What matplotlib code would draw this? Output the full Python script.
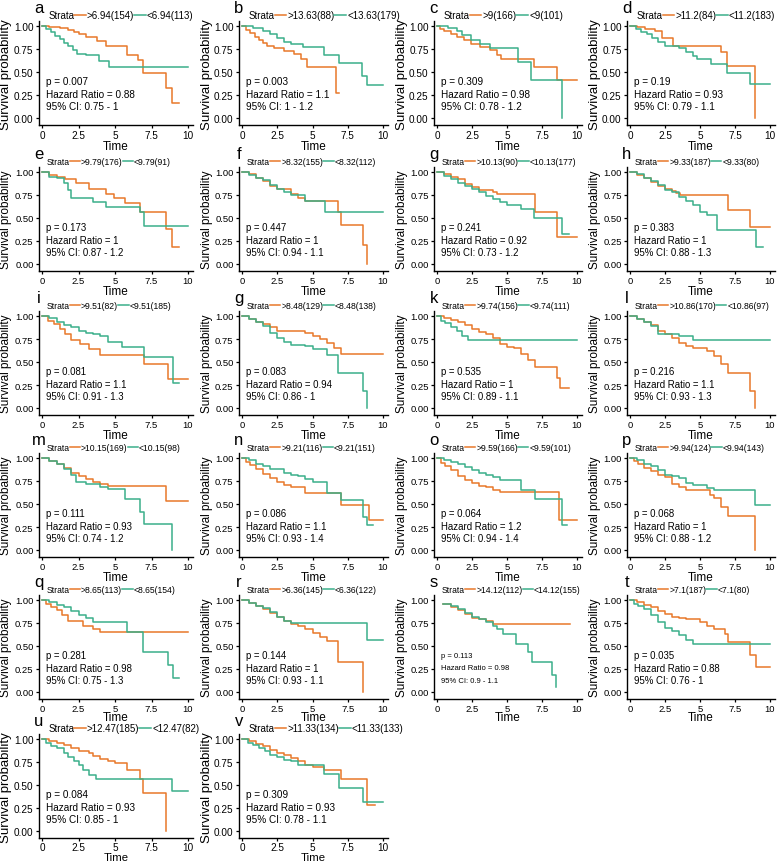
import matplotlib
matplotlib.use("Agg")
import matplotlib.pyplot as plt
from matplotlib.lines import Line2D

# panel labels (the reference repeats "g" in the third row)
letters = ['a', 'b', 'c', 'd', 'e', 'f', 'g', 'h', 'i', 'g', 'k', 'l',
           'm', 'n', 'o', 'p', 'q', 'r', 's', 't', 'u', 'v']
cutoffs = ['6.94', '13.63', '9', '11.2', '9.79', '8.32', '10.13', '9.33', '9.51', '8.48', '9.74',
           '10.86', '10.15', '9.21', '9.59', '9.94', '8.65', '6.36', '14.12', '7.1', '12.47', '11.33']
n_high = [154, 88, 166, 84, 176, 155, 90, 187, 82, 129, 156, 170, 169, 116, 166, 124, 113, 145, 112, 187, 185, 134]
n_low = [113, 179, 101, 183, 91, 112, 177, 80, 185, 138, 111, 97, 98, 151, 101, 143, 154, 122, 155, 80, 82, 133]
p_values = ['0.007', '0.003', '0.309', '0.19', '0.173', '0.447', '0.241', '0.383', '0.081', '0.083', '0.535',
            '0.216', '0.111', '0.086', '0.064', '0.068', '0.281', '0.144', '0.113', '0.035', '0.084', '0.309']
hazard_ratios = ['0.88', '1.1', '0.98', '0.93', '1', '1', '0.92', '1', '1.1', '0.94', '1',
                 '1.1', '0.93', '1.1', '1.2', '1', '0.98', '1', '0.98', '0.88', '0.93', '0.93']
ci_low = ['0.75', '1', '0.78', '0.79', '0.87', '0.94', '0.73', '0.88', '0.91', '0.86', '0.89',
          '0.93', '0.74', '0.93', '0.94', '0.88', '0.75', '0.93', '0.9', '0.76', '0.85', '0.78']
ci_high = ['1', '1.2', '1.2', '1.1', '1.2', '1.1', '1.2', '1.3', '1.3', '1', '1.1',
           '1.3', '1.2', '1.4', '1.4', '1.2', '1.3', '1.1', '1.1', '1', '1', '1.1']

# Kaplan-Meier steps (time, survival) for the ">" group
high_t = [
    [0, 0.5, 1.2, 1.8, 2.2, 2.5, 3.0, 3.8, 4.4, 5.8, 6.6, 6.9, 8.5, 8.9, 9.4],
    [0, 0.3, 0.6, 0.9, 1.2, 1.5, 1.8, 2.3, 3.0, 3.7, 4.2, 4.6, 6.7, 6.85],
    [0, 0.2, 0.5, 1.0, 1.4, 1.9, 2.4, 3.1, 3.8, 4.3, 4.6, 6.9, 8.6, 10],
    [0, 0.5, 1.1, 1.8, 2.3, 3.1, 6.5, 6.9, 8.9],
    [0, 0.5, 1.0, 1.6, 2.3, 3.2, 4.4, 4.9, 5.7, 6.7, 8.5, 8.9, 9.4],
    [0, 0.5, 1, 1.5, 2, 2.5, 3.5, 4, 4.5, 6.8, 7.0, 8.6, 8.9],
    [0, 0.5, 1, 1.5, 2, 2.5, 3, 4, 4.3, 7.0, 8.6, 10],
    [0, 0.5, 1, 1.5, 2, 2.5, 3, 3.3, 3.6, 7.0, 8.6, 10],
    [0, 0.4, 0.8, 1.2, 1.6, 2.0, 2.6, 3.2, 4.0, 7.0, 8.6, 10],
    [0, 0.5, 1, 1.5, 2, 2.5, 4.5, 5.0, 5.5, 6.0, 6.5, 7.0, 10],
    [0, 0.5, 1, 1.5, 2, 2.5, 3, 3.5, 4, 4.5, 5, 5.5, 6, 6.5, 7, 8.6, 8.8, 9.4],
    [0, 0.5, 1, 1.5, 2, 2.5, 3, 3.5, 4, 4.5, 5.5, 6, 6.5, 7, 8.6, 8.9],
    [0, 0.5, 1, 1.5, 2, 2.5, 3, 3.5, 4, 4.5, 8.5, 10],
    [0, 0.3, 0.6, 1, 1.5, 2, 2.5, 3, 3.5, 4.5, 7, 9, 10],
    [0, 0.3, 0.6, 1, 1.5, 2, 2.5, 3, 3.5, 4, 4.5, 8.7, 10],
    [0, 0.3, 0.6, 1, 1.5, 2, 2.5, 3, 3.5, 4, 5.7, 6, 6.5, 7, 8.9],
    [0, 0.3, 0.6, 1.0, 1.4, 1.8, 2.8, 3.5, 4.0, 10],
    [0, 0.5, 1, 1.5, 2, 2.5, 3, 3.5, 4, 4.5, 5, 5.5, 6, 6.8, 8.6],
    [0.45, 1, 1.5, 2, 2.5, 3, 3.5, 4, 9.5],
    [0, 0.5, 1, 1.5, 2, 2.5, 3, 3.5, 4, 5, 5.5, 6, 6.8, 7.0, 8.6, 9.0, 10],
    [0, 0.5, 1, 1.5, 2, 2.5, 3.2, 3.5, 4, 4.5, 5, 5.8, 6.7, 6.9, 8.5],
    [0, 0.5, 1, 1.5, 2, 2.5, 3, 3.5, 4, 4.5, 5, 5.8, 7, 8.9, 9.4],
]
high_s = [
    [1, 0.99, 0.98, 0.96, 0.93, 0.91, 0.88, 0.84, 0.78, 0.69, 0.63, 0.49, 0.33, 0.16, 0.16],
    [1, 0.96, 0.92, 0.88, 0.85, 0.81, 0.78, 0.76, 0.73, 0.70, 0.64, 0.55, 0.27, 0.27],
    [1, 0.97, 0.95, 0.91, 0.88, 0.85, 0.80, 0.77, 0.74, 0.68, 0.64, 0.55, 0.41, 0.41],
    [1, 0.99, 0.97, 0.95, 0.87, 0.78, 0.72, 0.57, 0.0],
    [1, 0.97, 0.95, 0.92, 0.88, 0.82, 0.76, 0.72, 0.66, 0.57, 0.38, 0.19, 0.19],
    [1, 0.98, 0.94, 0.90, 0.85, 0.81, 0.76, 0.72, 0.69, 0.57, 0.42, 0.21, 0.0],
    [1, 0.98, 0.95, 0.92, 0.87, 0.84, 0.80, 0.78, 0.76, 0.57, 0.29, 0.29],
    [1, 0.97, 0.93, 0.89, 0.85, 0.82, 0.79, 0.77, 0.75, 0.59, 0.40, 0.40],
    [1, 0.95, 0.91, 0.86, 0.80, 0.74, 0.70, 0.64, 0.58, 0.48, 0.31, 0.31],
    [1, 0.97, 0.94, 0.91, 0.88, 0.84, 0.81, 0.78, 0.75, 0.71, 0.65, 0.59, 0.59],
    [1, 0.98, 0.96, 0.93, 0.90, 0.86, 0.83, 0.80, 0.76, 0.70, 0.66, 0.65, 0.59, 0.52, 0.45, 0.33, 0.22, 0.22],
    [1, 0.97, 0.94, 0.90, 0.84, 0.80, 0.76, 0.71, 0.67, 0.65, 0.62, 0.57, 0.48, 0.38, 0.19, 0.0],
    [1, 0.97, 0.94, 0.89, 0.84, 0.80, 0.77, 0.74, 0.72, 0.70, 0.53, 0.53],
    [1, 0.96, 0.92, 0.88, 0.83, 0.78, 0.74, 0.71, 0.68, 0.62, 0.49, 0.33, 0.33],
    [1, 0.95, 0.91, 0.87, 0.80, 0.76, 0.73, 0.70, 0.68, 0.65, 0.63, 0.33, 0.33],
    [1, 0.97, 0.93, 0.89, 0.86, 0.82, 0.79, 0.72, 0.68, 0.65, 0.60, 0.57, 0.47, 0.37, 0.0],
    [1, 0.96, 0.92, 0.89, 0.84, 0.77, 0.72, 0.68, 0.65, 0.65],
    [1, 0.97, 0.94, 0.90, 0.86, 0.82, 0.77, 0.74, 0.72, 0.69, 0.64, 0.60, 0.55, 0.33, 0.0],
    [0.96, 0.92, 0.89, 0.85, 0.80, 0.79, 0.77, 0.74, 0.74],
    [1, 0.98, 0.95, 0.92, 0.88, 0.85, 0.82, 0.80, 0.79, 0.76, 0.72, 0.68, 0.63, 0.54, 0.40, 0.27, 0.27],
    [1, 0.98, 0.96, 0.93, 0.90, 0.87, 0.85, 0.82, 0.78, 0.76, 0.74, 0.66, 0.57, 0.41, 0.0],
    [1, 0.98, 0.95, 0.92, 0.88, 0.85, 0.83, 0.79, 0.76, 0.72, 0.70, 0.66, 0.56, 0.28, 0.28],
]
# same for the "<" group
low_t = [
    [0, 0.3, 0.6, 0.9, 1.2, 1.5, 1.8, 2.1, 2.4, 3.0, 3.9, 4.6, 10],
    [0, 0.8, 1.5, 2.0, 2.5, 3.0, 3.5, 4.3, 5.8, 6.85, 8.5, 8.85, 10],
    [0, 0.8, 1.4, 1.8, 2.4, 3.1, 3.8, 5.8, 6.7, 8.9],
    [0, 0.4, 0.8, 1.2, 1.6, 2.0, 2.5, 3.5, 4.0, 4.5, 4.8, 5.8, 6.9, 8.6, 10],
    [0, 0.5, 1.0, 1.5, 1.8, 2.0, 3.5, 4.4, 6.7, 7.0, 10],
    [0, 0.5, 1, 1.5, 2, 2.5, 3, 3.5, 4.5, 5.9, 10],
    [0, 0.5, 1, 1.5, 2, 2.5, 3, 3.5, 4, 4.5, 5, 6, 6.9, 8.9, 9.4],
    [0, 0.5, 1, 1.5, 2, 2.5, 3, 3.5, 4, 4.5, 5, 5.5, 6.2, 9.0, 9.5],
    [0, 0.5, 1, 1.5, 2, 2.5, 3, 3.5, 4, 4.5, 5.5, 7.0, 9.0, 9.4],
    [0, 0.5, 1, 1.5, 2, 2.5, 3, 3.5, 4.5, 5, 6, 6.8, 8.6, 8.9],
    [0, 0.3, 0.6, 1.0, 1.4, 1.8, 2.2, 10],
    [0, 0.5, 1, 1.5, 2, 3.5, 4.5, 10],
    [0, 0.5, 1, 1.5, 2, 2.3, 3, 4, 4.5, 5.7, 6.7, 7.0, 8.9],
    [0, 0.5, 1, 1.5, 2, 3, 3.5, 4, 4.5, 5, 6, 7, 8.6, 8.9, 9.3],
    [0, 0.5, 1, 1.5, 2, 2.5, 3, 3.5, 4, 4.5, 6, 7, 8.9, 9.3],
    [0, 0.5, 1, 1.5, 2, 2.5, 3, 3.5, 4, 4.5, 5.5, 6, 8.9, 10],
    [0, 0.5, 1, 1.5, 2, 2.5, 3, 3.5, 5.8, 6.9, 8.6, 9.0, 9.4],
    [0, 0.5, 1, 1.5, 2, 2.5, 3, 3.5, 8.9, 10],
    [0.45, 1, 1.5, 2, 2.5, 3, 3.5, 4, 4.3, 4.7, 5.65, 6.5, 6.8, 8.2, 8.5],
    [0, 0.3, 0.6, 1, 1.5, 2, 2.5, 3, 3.5, 4, 4.5, 10],
    [0, 0.3, 0.6, 1, 1.5, 1.8, 2.2, 2.5, 2.8, 3.2, 3.7, 8.9, 10],
    [0, 0.4, 0.8, 1.2, 1.6, 2, 2.5, 3, 3.5, 4, 5.8, 6.9, 8.6, 10],
]
low_s = [
    [1, 0.97, 0.93, 0.89, 0.86, 0.82, 0.78, 0.74, 0.70, 0.68, 0.62, 0.55, 0.55],
    [1, 0.98, 0.95, 0.91, 0.87, 0.83, 0.80, 0.77, 0.68, 0.60, 0.46, 0.36, 0.36],
    [1, 0.98, 0.95, 0.90, 0.85, 0.80, 0.76, 0.61, 0.41, 0.0],
    [1, 0.97, 0.94, 0.91, 0.87, 0.83, 0.78, 0.76, 0.72, 0.67, 0.64, 0.59, 0.49, 0.37, 0.37],
    [1, 0.95, 0.93, 0.88, 0.80, 0.72, 0.67, 0.62, 0.57, 0.41, 0.41],
    [1, 0.97, 0.94, 0.91, 0.86, 0.82, 0.78, 0.75, 0.68, 0.57, 0.57],
    [1, 0.96, 0.92, 0.88, 0.85, 0.81, 0.78, 0.74, 0.71, 0.67, 0.64, 0.60, 0.50, 0.33, 0.33],
    [1, 0.98, 0.94, 0.90, 0.86, 0.80, 0.78, 0.73, 0.68, 0.64, 0.57, 0.53, 0.37, 0.19, 0.19],
    [1, 0.98, 0.93, 0.90, 0.88, 0.84, 0.82, 0.80, 0.78, 0.72, 0.66, 0.55, 0.27, 0.27],
    [1, 0.97, 0.93, 0.89, 0.82, 0.76, 0.72, 0.69, 0.67, 0.64, 0.58, 0.38, 0.19, 0.0],
    [1, 0.95, 0.92, 0.88, 0.84, 0.78, 0.74, 0.74],
    [1, 0.97, 0.94, 0.89, 0.80, 0.78, 0.74, 0.74],
    [1, 0.97, 0.93, 0.88, 0.82, 0.74, 0.72, 0.68, 0.66, 0.55, 0.41, 0.28, 0.0],
    [1, 0.98, 0.94, 0.91, 0.88, 0.84, 0.82, 0.80, 0.77, 0.74, 0.62, 0.54, 0.36, 0.27, 0.27],
    [1, 0.98, 0.96, 0.93, 0.90, 0.87, 0.84, 0.82, 0.79, 0.76, 0.65, 0.55, 0.27, 0.27],
    [1, 0.98, 0.94, 0.91, 0.87, 0.82, 0.80, 0.78, 0.73, 0.71, 0.67, 0.65, 0.49, 0.49],
    [1, 0.98, 0.95, 0.92, 0.88, 0.84, 0.80, 0.76, 0.65, 0.44, 0.29, 0.15, 0.15],
    [1, 0.97, 0.94, 0.91, 0.87, 0.82, 0.77, 0.75, 0.56, 0.56],
    [0.96, 0.93, 0.90, 0.86, 0.82, 0.79, 0.76, 0.72, 0.69, 0.63, 0.52, 0.43, 0.33, 0.19, 0.05],
    [1, 0.96, 0.93, 0.90, 0.84, 0.76, 0.70, 0.66, 0.62, 0.57, 0.52, 0.52],
    [1, 0.96, 0.92, 0.90, 0.85, 0.80, 0.76, 0.72, 0.66, 0.61, 0.57, 0.43, 0.43],
    [1, 0.96, 0.93, 0.90, 0.87, 0.83, 0.80, 0.77, 0.76, 0.72, 0.62, 0.47, 0.31, 0.31],
]

orange = '#E8782A'
green = '#3BAF8A'

plt.rcParams['font.family'] = ['Liberation Sans', 'DejaVu Sans']

W, H = 778, 862
fig = plt.figure(figsize=(W / 100, H / 100), dpi=100)

# pixel positions of x=0 / x=10 per column and y=1 per row
col_x0 = [42, 242, 437, 630]
col_x10 = [188, 383, 577, 770]
row_y1 = [27, 173, 317, 459, 601, 740]
y_px = 92
xmin, xmax = -0.22, 10.35
ymin, ymax = -0.075, 1.05

for k in range(len(letters)):
    r, c = divmod(k, 4)
    # rows 2-5 of the reference use squeezed (smaller) text
    wide = r in (0, 5)
    last = r == 5
    ppx = (col_x10[c] - col_x0[c]) / 10
    left = col_x0[c] + xmin * ppx
    width = (xmax - xmin) * ppx
    top = row_y1[r] - (ymax - 1) * y_px
    height = (ymax - ymin) * y_px
    ax = fig.add_axes([left / W, 1 - (top + height) / H, width / W, height / H])

    ax.plot(high_t[k], high_s[k], drawstyle='steps-post', color=orange, lw=1.1)
    ax.plot(low_t[k], low_s[k], drawstyle='steps-post', color=green, lw=1.1)

    ax.set_xlim(xmin, xmax)
    ax.set_ylim(ymin, ymax)
    ax.set_xticks([0, 2.5, 5, 7.5, 10])
    ax.set_xticklabels(['0', '2.5', '5', '7.5', '10'])
    ax.set_yticks([0, 0.25, 0.5, 0.75, 1.0])
    ax.set_yticklabels(['0.00', '0.25', '0.50', '0.75', '1.00'])
    for side in ['top', 'right']:
        ax.spines[side].set_visible(False)
    for side in ['left', 'bottom']:
        ax.spines[side].set_linewidth(1.0)
    ax.tick_params(length=2.3, width=0.9, pad=1.5, labelsize=7.2 if wide else 6.8,
                   colors='black')
    if last:
        ax.tick_params(axis='x', pad=0.8)

    ax.set_ylabel('Survival probability', fontsize=9.5 if wide else 8.5, labelpad=1)
    ax.yaxis.set_label_coords(-0.175, 0.5)
    if last:
        ax.set_xlabel('Time', fontsize=8.2, labelpad=-0.3)
    elif r == 4:
        ax.set_xlabel('Time', fontsize=8.5, labelpad=-1.5)
    else:
        ax.set_xlabel('Time', fontsize=8.5, labelpad=0)

    ax.text(0.0, 1.135, letters[k], transform=ax.transAxes, fontsize=12,
            ha='center', va='center')

    handles = [Line2D([], [], color='none'),
               Line2D([], [], color=orange, lw=1.1),
               Line2D([], [], color=green, lw=1.1)]
    labels = ['Strata', '>%s(%d)' % (cutoffs[k], n_high[k]), '<%s(%d)' % (cutoffs[k], n_low[k])]
    ax.legend(handles, labels, ncol=3, loc='center left', bbox_to_anchor=(-0.02, 1.06),
              frameon=False, fontsize=7.0 if wide else 6.2, handlelength=1.2,
              handletextpad=0.1, columnspacing=0.0, borderpad=0, borderaxespad=0)

    fs = 5.5 if letters[k] == 's' else (7.2 if wide else 6.9)
    ax.text(0.3, 0.40, 'p = ' + p_values[k], fontsize=fs, va='center')
    ax.text(0.3, 0.265, 'Hazard Ratio = ' + hazard_ratios[k], fontsize=fs, va='center')
    ax.text(0.3, 0.13, '95% CI: ' + ci_low[k] + ' - ' + ci_high[k], fontsize=fs, va='center')

fig.savefig('out.png', dpi=100)
